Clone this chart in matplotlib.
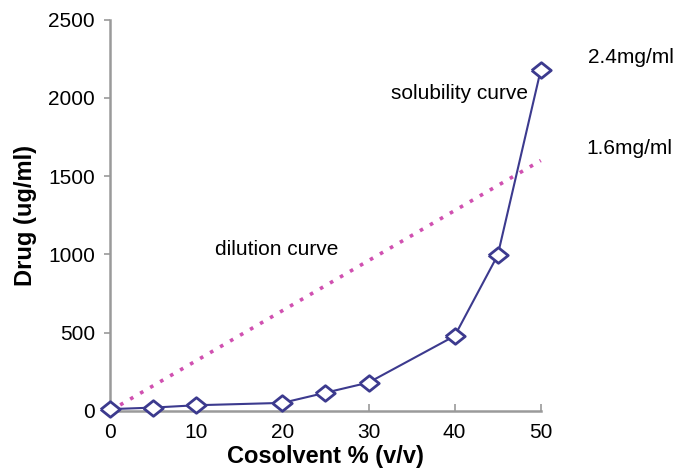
import matplotlib.pyplot as plt

plt.rcParams['font.family'] = ['Liberation Sans', 'DejaVu Sans']

cosolvent = [0, 5, 10, 20, 25, 30, 40, 45, 50]
solubility = [10, 20, 35, 50, 115, 180, 478, 995, 2180]

dilution_x = [0, 50]
dilution_y = [0, 1600]

x_ticks = [0, 10, 20, 30, 40, 50]
y_ticks = [0, 500, 1000, 1500, 2000, 2500]

line_col = '#3c3a8e'
axis_col = '#9a9a9a'

# slightly flattened diamond, like the original markers
diamond = [(-1, 0), (0, 0.8), (1, 0), (0, -0.8), (-1, 0)]

fig = plt.figure(figsize=(6.76, 4.71), dpi=100)
ax = fig.add_axes([0.163, 0.128, 0.637, 0.830])

ax.plot(dilution_x, dilution_y, color='#d050b0', linestyle=(0, (1, 2.2)),
        linewidth=2.6, clip_on=False, zorder=2)
ax.plot(cosolvent, solubility, color=line_col, linewidth=1.5,
        marker=diamond, markersize=14, markerfacecolor='white',
        markeredgecolor=line_col, markeredgewidth=2.0, clip_on=False, zorder=3)

ax.set_xlim(0, 50)
ax.set_ylim(0, 2500)
ax.set_xticks(x_ticks)
ax.set_yticks(y_ticks)

for side in ['top', 'right']:
    ax.spines[side].set_visible(False)
for side in ['left', 'bottom']:
    ax.spines[side].set_color(axis_col)
    ax.spines[side].set_linewidth(1.8)

ax.tick_params(axis='x', direction='in', length=5, color=axis_col, width=1.2,
               labelsize=15, pad=9)
ax.tick_params(axis='y', direction='out', length=4, color=axis_col, width=1.2,
               labelsize=15, pad=7)

ax.set_xlabel('Cosolvent % (v/v)', fontsize=17, fontweight='bold', labelpad=2)
ax.set_ylabel('Drug (ug/ml)', fontsize=17, fontweight='bold', labelpad=8)

ax.text(55.5, 2256, '2.4mg/ml', fontsize=15, ha='left', va='center', clip_on=False)
ax.text(55.3, 1677, '1.6mg/ml', fontsize=15, ha='left', va='center', clip_on=False)
ax.text(40.6, 2031, 'solubility curve', fontsize=15, ha='center', va='center')
ax.text(12.2, 1030, 'dilution curve', fontsize=15, ha='left', va='center')

plt.savefig('out.png', dpi=100)
